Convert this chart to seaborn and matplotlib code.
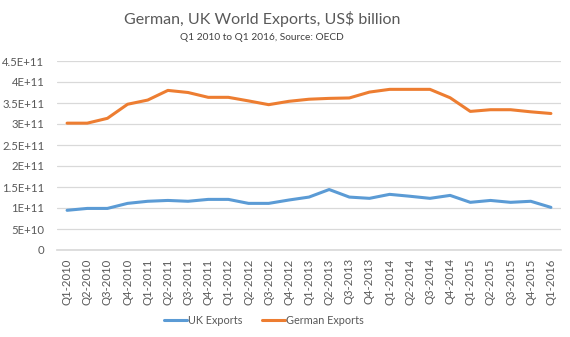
import matplotlib
matplotlib.use("Agg")
import matplotlib.pyplot as plt
import seaborn as sns
import pandas as pd
from matplotlib.lines import Line2D

quarters = ["Q1-2010", "Q2-2010", "Q3-2010", "Q4-2010",
            "Q1-2011", "Q2-2011", "Q3-2011", "Q4-2011",
            "Q1-2012", "Q2-2012", "Q3-2012", "Q4-2012",
            "Q1-2013", "Q2-2013", "Q3-2013", "Q4-2013",
            "Q1-2014", "Q2-2014", "Q3-2014", "Q4-2014",
            "Q1-2015", "Q2-2015", "Q3-2015", "Q4-2015",
            "Q1-2016"]

uk_exports = [94.5e9, 99e9, 99e9, 111e9, 116e9, 118e9, 116e9, 120.5e9,
              120.5e9, 111e9, 111e9, 119e9, 126e9, 144e9, 126e9, 123e9,
              132.5e9, 128e9, 123e9, 130e9, 113.5e9, 118e9, 113.5e9, 116e9,
              101.5e9]

german_exports = [302e9, 302e9, 313.5e9, 347e9, 357e9, 380e9, 375e9, 363.5e9,
                  363.5e9, 355e9, 346e9, 354e9, 359e9, 361e9, 362e9, 376e9,
                  382.5e9, 382.5e9, 382.5e9, 362.5e9, 330e9, 334e9, 334e9, 329e9,
                  325e9]

series_names = ["UK Exports", "German Exports"]
y_ticks = [0, 0.5e11, 1e11, 1.5e11, 2e11, 2.5e11, 3e11, 3.5e11, 4e11, 4.5e11]
y_tick_labels = ["0", "5E+10", "1E+11", "1.5E+11", "2E+11", "2.5E+11",
                 "3E+11", "3.5E+11", "4E+11", "4.5E+11"]

title = "German, UK World Exports, US$ billion"
subtitle = "Q1 2010 to Q1 2016, Source: OECD"

df = pd.DataFrame({
    "Quarter": quarters * 2,
    "Value": uk_exports + german_exports,
    "Series": [series_names[0]] * len(quarters) + [series_names[1]] * len(quarters),
})

sns.set_theme(style="white")
plt.rcParams["font.family"] = ["Lato", "DejaVu Sans"]
text_color = "#595959"
grid_color = "#D9D9D9"

fig = plt.figure(figsize=(5.7, 3.37), dpi=100)
ax = fig.add_axes([57 / 570, (337 - 250) / 337, (561 - 57) / 570, (250 - 61) / 337])

palette = {"UK Exports": "#5B9BD5", "German Exports": "#ED7D31"}
sns.lineplot(data=df, x="Quarter", y="Value", hue="Series", palette=palette,
             sort=False, linewidth=2.2, ax=ax, legend=False)

ax.set_xlim(-0.5, len(quarters) - 0.5)
ax.set_ylim(0, 4.5e11)
ax.set_yticks(y_ticks)
ax.set_yticklabels(y_tick_labels)
ax.set_xticks(range(len(quarters)))
ax.set_xticklabels(quarters, rotation=90)
ax.yaxis.grid(True, color=grid_color, linewidth=0.9)
ax.set_axisbelow(True)
for s in ["top", "right", "left"]:
    ax.spines[s].set_visible(False)
ax.spines["bottom"].set_color(grid_color)
ax.tick_params(axis="both", length=0, colors=text_color, labelsize=8.2)
ax.tick_params(axis="y", pad=9)
ax.tick_params(axis="x", pad=6)
ax.set_xlabel("")
ax.set_ylabel("")

fig.text(262 / 570, 1 - 19 / 337, title, ha="center", va="center",
         fontsize=11.5, color=text_color)
fig.text(262 / 570, 1 - 37 / 337, subtitle, ha="center", va="center",
         fontsize=7.3, color="#404040")

handles = [Line2D([], [], color=palette[n], linewidth=2.2) for n in series_names]
fig.legend(handles, series_names, loc="center", bbox_to_anchor=(264 / 570, 1 - 320 / 337),
           ncol=2, frameon=False, fontsize=7.8, labelcolor=text_color,
           handlelength=2.1, handletextpad=0.1, columnspacing=1.8)

fig.savefig("out.png", dpi=100)
